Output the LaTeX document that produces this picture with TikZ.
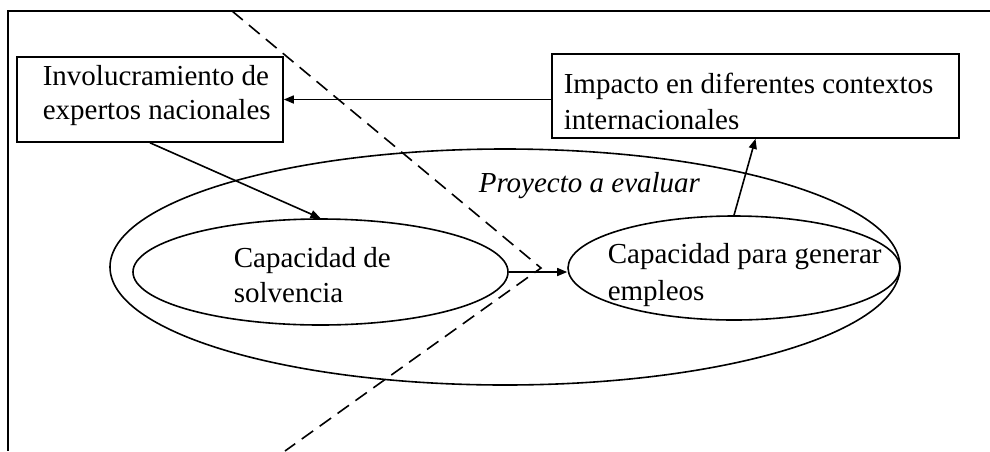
\documentclass[tikz,border=0pt]{standalone}
\usepackage{fontspec}
\setmainfont{Liberation Serif}
\usetikzlibrary{shapes.geometric,arrows.meta}
\begin{document}
\begin{tikzpicture}[x=0.5pt,y=-0.5pt,
  line width=0.8pt,
  txt/.style={anchor=base west,inner sep=0pt,font=\fontsize{14.5pt}{17pt}\selectfont},
  boxnode/.style={draw,rectangle,inner sep=0pt},
  ovalnode/.style={draw,ellipse,inner sep=0pt},
  arr/.style={-{Triangle[length=5pt,width=4pt]}},
  cut/.style={dash pattern=on 7pt off 4pt}]
\useasboundingbox (0,0) rectangle (990,451);
% frame
\coordinate (fr1) at (990,11);
\coordinate (fr2) at (8,11);
\coordinate (fr3) at (8,451);
\draw (fr1) -- (fr2) -- (fr3);
% ellipses
\node[ovalnode,minimum width=395pt,minimum height=118pt] (proj) at (505,267) {};
\node[ovalnode,minimum width=187.5pt,minimum height=53pt] (solv) at (320.5,272) {};
\node[ovalnode,minimum width=166pt,minimum height=52pt] (empl) at (734,268) {};
% boxes
\node[boxnode,minimum width=133pt,minimum height=42.5pt] (exp) at (150,99.5) {};
\node[boxnode,minimum width=203.5pt,minimum height=42pt] (imp) at (755.5,96) {};
% texts
\node[txt] (t1a) at (42,85) {Involucramiento de};
\node[txt] (t1b) at (42,119) {expertos nacionales};
\node[txt] (t2a) at (563,93) {Impacto en diferentes contextos};
\node[txt] (t2b) at (563,129) {internacionales};
\node[txt,font=\fontsize{14.5pt}{17pt}\selectfont\itshape] (t3) at (478,192) {Proyecto a evaluar};
\node[txt] (t4a) at (233,267) {Capacidad de};
\node[txt] (t4b) at (233,302) {solvencia};
\node[txt] (t5a) at (607,263) {Capacidad para generar};
\node[txt] (t5b) at (607,300) {empleos};
% dashed cut
\coordinate (dA) at (232,11);
\coordinate (dB) at (541,268);
\coordinate (dC) at (285,451);
\draw[cut] (dA) -- (dB) -- (dC);
% connectors
\draw[arr] (imp.west |- exp.east) -- (exp.east);
\draw[arr] (exp.south) -- (solv.north);
\draw[arr] (solv.east) -- (solv.east -| empl.west);
\draw[arr] (empl.north) -- (imp.south);
\end{tikzpicture}
\end{document}
